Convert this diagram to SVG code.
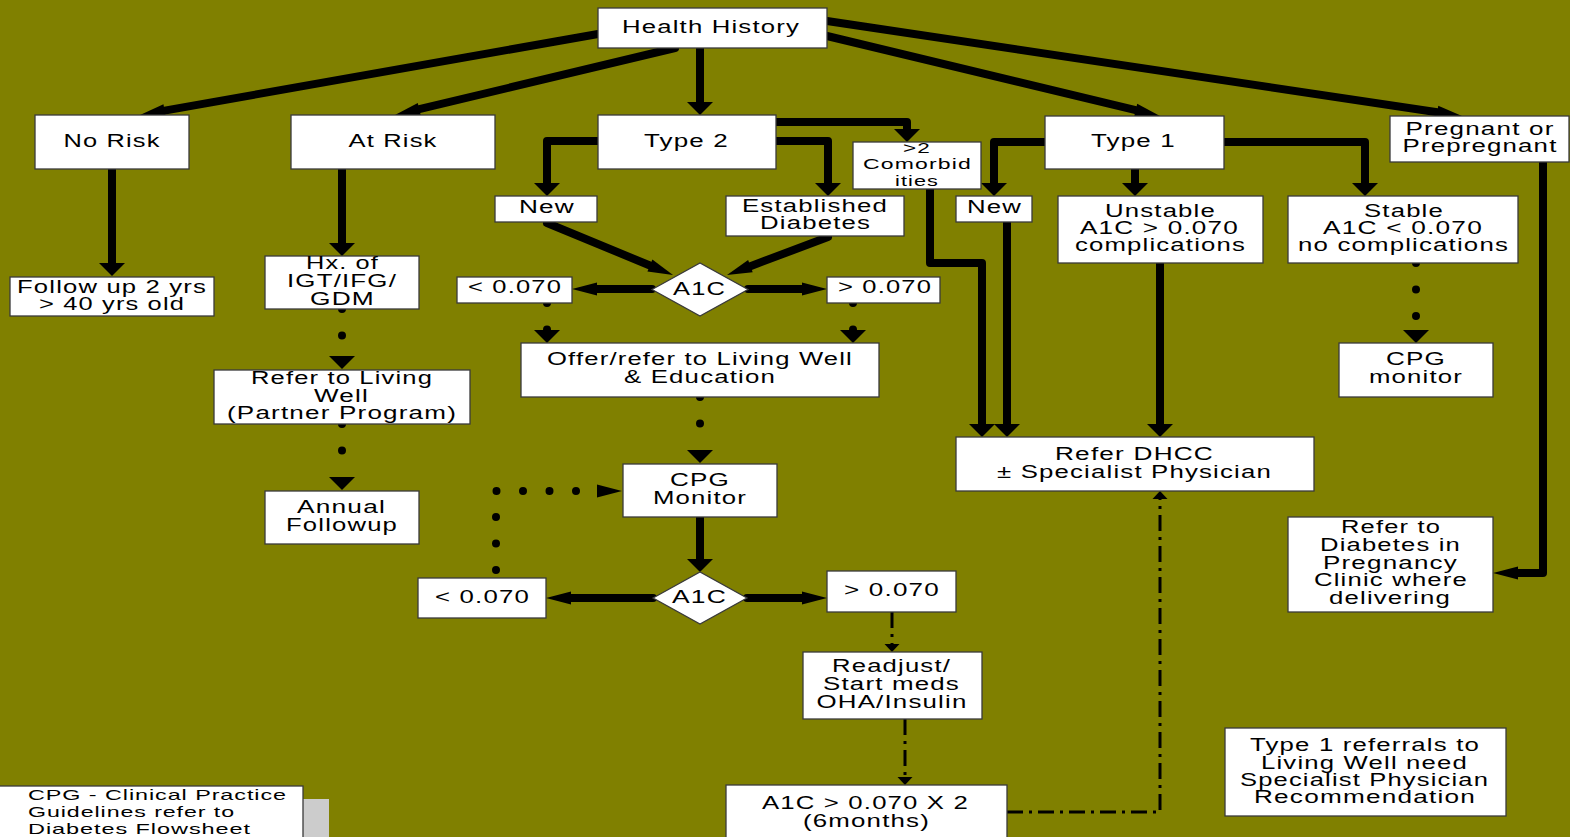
<svg xmlns="http://www.w3.org/2000/svg" width="1570" height="837" viewBox="0 0 1570 837">
  <style>
    .box { fill: #ffffff; stroke: #3a3a3a; stroke-width: 1.3; }
    .t { font-family: "Liberation Sans", Arial, sans-serif; font-size: 17.5px; fill: #000; text-anchor: middle; letter-spacing: 0.8px; }
    .ts { font-size: 15.5px; }
    .tl { font-family: "Liberation Sans", Arial, sans-serif; font-size: 15px; fill: #000; letter-spacing: 0.6px; }
    .thick { fill: none; stroke: #000; stroke-width: 8; stroke-linecap: round; stroke-linejoin: round; }
    .dots { fill: none; stroke: #000; stroke-width: 8; stroke-linecap: round; stroke-dasharray: 0 26.5; }
    .dashdot { fill: none; stroke: #000; stroke-width: 3; stroke-dasharray: 16 6 3 6; }
  </style>
  <defs>
    <!-- arrowhead for mostly horizontal runs: long and flat -->
    <marker id="ah" markerUnits="userSpaceOnUse" markerWidth="26" markerHeight="14" refX="0" refY="6.5" orient="auto" overflow="visible">
      <path d="M0,0 L25,6.5 L0,13 Z" fill="#000"/>
    </marker>
    <!-- arrowhead for vertical runs: short and wide -->
    <marker id="av" markerUnits="userSpaceOnUse" markerWidth="14" markerHeight="27" refX="0" refY="13" orient="auto" overflow="visible">
      <path d="M0,0 L13,13 L0,26 Z" fill="#000"/>
    </marker>
    <!-- small arrowhead for dash-dot lines -->
    <marker id="as" markerUnits="userSpaceOnUse" markerWidth="9" markerHeight="16" refX="0" refY="7.5" orient="auto" overflow="visible">
      <path d="M0,0 L8,7.5 L0,15 Z" fill="#000"/>
    </marker>
  </defs>

  <rect x="0" y="0" width="1570" height="837" fill="#808000"/>

  <!-- connectors -->
  <g id="connectors">
    <!-- from Health History -->
    <path class="thick" d="M598,34 L164.6,110.6" marker-end="url(#ah)"/>
    <path class="thick" d="M675,48 L419.3,109.2" marker-end="url(#ah)"/>
    <path class="thick" d="M700,48 V102" marker-end="url(#av)"/>
    <path class="thick" d="M827,21 L1437.3,112.3" marker-end="url(#ah)"/>
    <path class="thick" d="M827,36 L1135.7,110.1" marker-end="url(#ah)"/>

    <!-- risk branches -->
    <path class="thick" d="M112,169 V263" marker-end="url(#av)"/>
    <path class="thick" d="M342,169 V243" marker-end="url(#av)"/>
    <path class="dots" d="M342,309 V356" marker-end="url(#av)"/>
    <path class="dots" d="M342,424 V477" marker-end="url(#av)"/>

    <!-- Type 2 branches -->
    <path class="thick" d="M776,122 H907 V129" marker-end="url(#av)"/>
    <path class="thick" d="M598,141 H547 V183" marker-end="url(#av)"/>
    <path class="thick" d="M776,141 H828 V183" marker-end="url(#av)"/>
    <path class="thick" d="M547,223 L649.9,265.5" marker-end="url(#ah)"/>
    <path class="thick" d="M828,237 L750.4,266.2" marker-end="url(#ah)"/>
    <path class="thick" d="M652,289 H597" marker-end="url(#ah)"/>
    <path class="thick" d="M748,289 H802" marker-end="url(#ah)"/>
    <path class="dots" d="M547,303 V330" marker-end="url(#av)"/>
    <path class="dots" d="M853,303 V330" marker-end="url(#av)"/>
    <path class="dots" d="M700,397 V450" marker-end="url(#av)"/>
    <path class="thick" d="M700,517 V559" marker-end="url(#av)"/>
    <path class="thick" d="M653,598 H571" marker-end="url(#ah)"/>
    <path class="thick" d="M747,598 H802" marker-end="url(#ah)"/>
    <path class="dots" d="M496,570 V491 H597" marker-end="url(#ah)"/>
    <path class="dashdot" d="M892,612 V644" marker-end="url(#as)"/>
    <path class="dashdot" d="M905,719 V777" marker-end="url(#as)"/>
    <path class="dashdot" d="M1007,812 H1160 V499" marker-end="url(#as)"/>

    <!-- comorbidities and Type 1 branches -->
    <path class="thick" d="M930,188 V263 H982 V424" marker-end="url(#av)"/>
    <path class="thick" d="M1045,142 H994 V183" marker-end="url(#av)"/>
    <path class="thick" d="M1007,222 V424" marker-end="url(#av)"/>
    <path class="thick" d="M1135,169 V183" marker-end="url(#av)"/>
    <path class="thick" d="M1224,142 H1365 V183" marker-end="url(#av)"/>
    <path class="thick" d="M1160,263 V424" marker-end="url(#av)"/>
    <path class="dots" d="M1416,263 V330" marker-end="url(#av)"/>

    <!-- pregnancy -->
    <path class="thick" d="M1543,162 V573 H1518" marker-end="url(#ah)"/>
  </g>

  <!-- nodes -->
  <g id="health-history">
    <rect class="box" x="598" y="8" width="229" height="40"/>
    <text class="t" x="711" y="33" textLength="178" lengthAdjust="spacingAndGlyphs">Health History</text>
  </g>
  <g id="no-risk">
    <rect class="box" x="35" y="115" width="154" height="54"/>
    <text class="t" x="112" y="147" textLength="97" lengthAdjust="spacingAndGlyphs">No Risk</text>
  </g>
  <g id="at-risk">
    <rect class="box" x="291" y="115" width="204" height="54"/>
    <text class="t" x="393" y="147" textLength="89" lengthAdjust="spacingAndGlyphs">At Risk</text>
  </g>
  <g id="type-2">
    <rect class="box" x="598" y="115" width="178" height="54"/>
    <text class="t" x="686.5" y="147" textLength="85" lengthAdjust="spacingAndGlyphs">Type 2</text>
  </g>
  <g id="comorbidities">
    <rect class="box" x="853" y="142" width="128" height="47"/>
    <text class="t ts" x="917" y="153" textLength="28" lengthAdjust="spacingAndGlyphs">&gt;2</text>
    <text class="t ts" x="917.5" y="169" textLength="109" lengthAdjust="spacingAndGlyphs">Comorbid</text>
    <text class="t ts" x="917" y="186" textLength="44" lengthAdjust="spacingAndGlyphs">ities</text>
  </g>
  <g id="type-1">
    <rect class="box" x="1045" y="116" width="179" height="53"/>
    <text class="t" x="1133.5" y="147" textLength="85" lengthAdjust="spacingAndGlyphs">Type 1</text>
  </g>
  <g id="pregnant">
    <rect class="box" x="1390" y="116" width="179" height="46"/>
    <text class="t" x="1480" y="135" textLength="149" lengthAdjust="spacingAndGlyphs">Pregnant or</text>
    <text class="t" x="1480" y="152" textLength="155" lengthAdjust="spacingAndGlyphs">Prepregnant</text>
  </g>
  <g id="follow-up">
    <rect class="box" x="10" y="277" width="204" height="39"/>
    <text class="t" x="112" y="293" textLength="190" lengthAdjust="spacingAndGlyphs">Follow up 2 yrs</text>
    <text class="t" x="112" y="310" textLength="146" lengthAdjust="spacingAndGlyphs">&gt; 40 yrs old</text>
  </g>
  <g id="hx-igt">
    <rect class="box" x="265" y="256" width="154" height="53"/>
    <text class="t" x="342.5" y="269" textLength="73" lengthAdjust="spacingAndGlyphs">Hx. of</text>
    <text class="t" x="342" y="287" textLength="110" lengthAdjust="spacingAndGlyphs">IGT/IFG/</text>
    <text class="t" x="342.5" y="305" textLength="65" lengthAdjust="spacingAndGlyphs">GDM</text>
  </g>
  <g id="refer-living-well">
    <rect class="box" x="214" y="370" width="256" height="54"/>
    <text class="t" x="342" y="384" textLength="182" lengthAdjust="spacingAndGlyphs">Refer to Living</text>
    <text class="t" x="341.5" y="402" textLength="55" lengthAdjust="spacingAndGlyphs">Well</text>
    <text class="t" x="342" y="419" textLength="230" lengthAdjust="spacingAndGlyphs">(Partner Program)</text>
  </g>
  <g id="annual-followup">
    <rect class="box" x="265" y="491" width="154" height="53"/>
    <text class="t" x="341.5" y="513" textLength="89" lengthAdjust="spacingAndGlyphs">Annual</text>
    <text class="t" x="342" y="531" textLength="112" lengthAdjust="spacingAndGlyphs">Followup</text>
  </g>
  <g id="new-type2">
    <rect class="box" x="495" y="196" width="102" height="26"/>
    <text class="t" x="547" y="213" textLength="56" lengthAdjust="spacingAndGlyphs">New</text>
  </g>
  <g id="established">
    <rect class="box" x="726" y="196" width="178" height="40"/>
    <text class="t" x="815" y="212" textLength="146" lengthAdjust="spacingAndGlyphs">Established</text>
    <text class="t" x="815.5" y="229" textLength="111" lengthAdjust="spacingAndGlyphs">Diabetes</text>
  </g>
  <g id="a1c-first">
    <polygon class="box" points="652,289.5 700,263 748,289.5 700,316"/>
    <text class="t" x="699.5" y="295" textLength="53" lengthAdjust="spacingAndGlyphs">A1C</text>
  </g>
  <g id="below-first">
    <rect class="box" x="457" y="277" width="115" height="26"/>
    <text class="t" x="515" y="293" textLength="94" lengthAdjust="spacingAndGlyphs">&lt; 0.070</text>
  </g>
  <g id="above-first">
    <rect class="box" x="827" y="277" width="113" height="26"/>
    <text class="t" x="885" y="293" textLength="94" lengthAdjust="spacingAndGlyphs">&gt; 0.070</text>
  </g>
  <g id="offer-refer">
    <rect class="box" x="521" y="343" width="358" height="54"/>
    <text class="t" x="700" y="365" textLength="306" lengthAdjust="spacingAndGlyphs">Offer/refer to Living Well</text>
    <text class="t" x="700" y="383" textLength="152" lengthAdjust="spacingAndGlyphs">&amp; Education</text>
  </g>
  <g id="cpg-monitor-type2">
    <rect class="box" x="623" y="464" width="154" height="53"/>
    <text class="t" x="700" y="486" textLength="60" lengthAdjust="spacingAndGlyphs">CPG</text>
    <text class="t" x="700" y="504" textLength="94" lengthAdjust="spacingAndGlyphs">Monitor</text>
  </g>
  <g id="a1c-second">
    <polygon class="box" points="653,598 700,572 747,598 700,624"/>
    <text class="t" x="699.5" y="603" textLength="55" lengthAdjust="spacingAndGlyphs">A1C</text>
  </g>
  <g id="below-second">
    <rect class="box" x="418" y="578" width="128" height="40"/>
    <text class="t" x="482.5" y="603" textLength="95" lengthAdjust="spacingAndGlyphs">&lt; 0.070</text>
  </g>
  <g id="above-second">
    <rect class="box" x="827" y="571" width="129" height="41"/>
    <text class="t" x="892" y="596" textLength="96" lengthAdjust="spacingAndGlyphs">&gt; 0.070</text>
  </g>
  <g id="readjust">
    <rect class="box" x="803" y="652" width="179" height="67"/>
    <text class="t" x="891.5" y="672" textLength="119" lengthAdjust="spacingAndGlyphs">Readjust/</text>
    <text class="t" x="891.5" y="690" textLength="137" lengthAdjust="spacingAndGlyphs">Start meds</text>
    <text class="t" x="892" y="708" textLength="151" lengthAdjust="spacingAndGlyphs">OHA/Insulin</text>
  </g>
  <g id="a1c-twice">
    <rect class="box" x="726" y="785" width="281" height="60"/>
    <text class="t" x="865.5" y="809" textLength="207" lengthAdjust="spacingAndGlyphs">A1C &gt; 0.070 X 2</text>
    <text class="t" x="866.5" y="827" textLength="127" lengthAdjust="spacingAndGlyphs">(6months)</text>
  </g>
  <g id="new-type1">
    <rect class="box" x="956" y="196" width="76" height="26"/>
    <text class="t" x="994.5" y="213" textLength="55" lengthAdjust="spacingAndGlyphs">New</text>
  </g>
  <g id="unstable">
    <rect class="box" x="1058" y="196" width="205" height="67"/>
    <text class="t" x="1160.5" y="217" textLength="111" lengthAdjust="spacingAndGlyphs">Unstable</text>
    <text class="t" x="1159.5" y="234" textLength="159" lengthAdjust="spacingAndGlyphs">A1C &gt; 0.070</text>
    <text class="t" x="1160.5" y="251" textLength="171" lengthAdjust="spacingAndGlyphs">complications</text>
  </g>
  <g id="stable">
    <rect class="box" x="1288" y="196" width="230" height="67"/>
    <text class="t" x="1404" y="217" textLength="80" lengthAdjust="spacingAndGlyphs">Stable</text>
    <text class="t" x="1403" y="234" textLength="160" lengthAdjust="spacingAndGlyphs">A1C &lt; 0.070</text>
    <text class="t" x="1403.5" y="251" textLength="211" lengthAdjust="spacingAndGlyphs">no complications</text>
  </g>
  <g id="cpg-monitor-type1">
    <rect class="box" x="1339" y="343" width="154" height="54"/>
    <text class="t" x="1416" y="365" textLength="60" lengthAdjust="spacingAndGlyphs">CPG</text>
    <text class="t" x="1416" y="383" textLength="94" lengthAdjust="spacingAndGlyphs">monitor</text>
  </g>
  <g id="refer-dhcc">
    <rect class="box" x="956" y="437" width="358" height="54"/>
    <text class="t" x="1134.5" y="460" textLength="159" lengthAdjust="spacingAndGlyphs">Refer DHCC</text>
    <text class="t" x="1134.5" y="478" textLength="275" lengthAdjust="spacingAndGlyphs">± Specialist Physician</text>
  </g>
  <g id="pregnancy-clinic">
    <rect class="box" x="1288" y="517" width="205" height="95"/>
    <text class="t" x="1391" y="533" textLength="100" lengthAdjust="spacingAndGlyphs">Refer to</text>
    <text class="t" x="1390.5" y="551" textLength="141" lengthAdjust="spacingAndGlyphs">Diabetes in</text>
    <text class="t" x="1390.5" y="569" textLength="135" lengthAdjust="spacingAndGlyphs">Pregnancy</text>
    <text class="t" x="1391" y="586" textLength="154" lengthAdjust="spacingAndGlyphs">Clinic where</text>
    <text class="t" x="1390" y="604" textLength="122" lengthAdjust="spacingAndGlyphs">delivering</text>
  </g>
  <g id="type1-note">
    <rect class="box" x="1225" y="728" width="281" height="88"/>
    <text class="t" x="1365" y="751" textLength="230" lengthAdjust="spacingAndGlyphs">Type 1 referrals to</text>
    <text class="t" x="1364.5" y="769" textLength="207" lengthAdjust="spacingAndGlyphs">Living Well need</text>
    <text class="t" x="1364.5" y="786" textLength="249" lengthAdjust="spacingAndGlyphs">Specialist Physician</text>
    <text class="t" x="1365" y="803" textLength="222" lengthAdjust="spacingAndGlyphs">Recommendation</text>
  </g>
  <g id="legend">
    <rect x="303" y="799" width="26" height="40" fill="#cccccc"/>
    <rect class="box" x="-2" y="786" width="305" height="60"/>
    <text class="tl" x="28" y="800" textLength="259" lengthAdjust="spacingAndGlyphs">CPG - Clinical Practice</text>
    <text class="tl" x="28" y="817" textLength="207" lengthAdjust="spacingAndGlyphs">Guidelines refer to</text>
    <text class="tl" x="28" y="834" textLength="223" lengthAdjust="spacingAndGlyphs">Diabetes Flowsheet</text>
  </g>
</svg>
